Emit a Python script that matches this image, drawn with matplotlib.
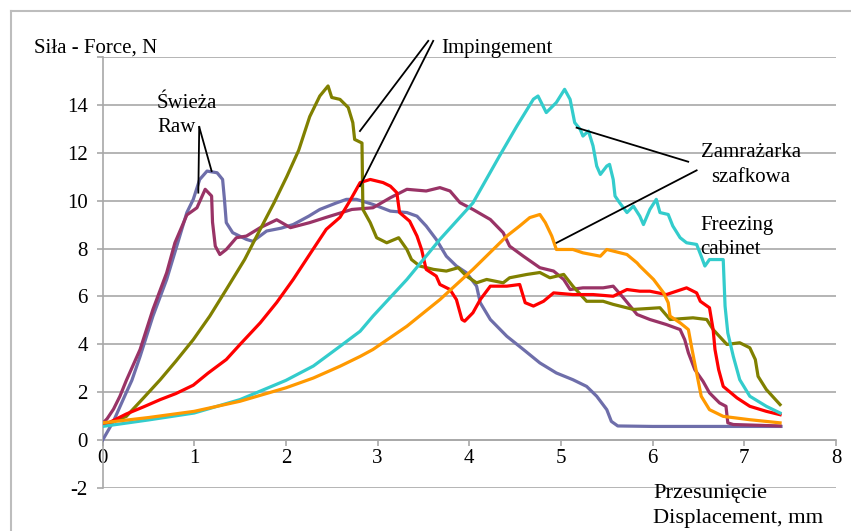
import matplotlib
matplotlib.use("Agg")
import matplotlib.pyplot as plt
from matplotlib.lines import Line2D

# ------------------------------------
# Data: displacement (mm) vs force (N)
# ------------------------------------
raw1_x = [0, 0.12, 0.26, 0.32, 0.41, 0.55, 0.70, 0.81, 0.92, 0.99, 1.06, 1.14, 1.25, 1.31, 1.33,
          1.35, 1.42, 1.57, 1.64, 1.79, 1.95, 2.08, 2.25, 2.37, 2.55, 2.66, 2.77, 2.95, 3.14,
          3.32, 3.43, 3.53, 3.64, 3.75, 3.86, 3.97, 4.08, 4.12, 4.23, 4.41, 4.59, 4.77, 4.95,
          5.13, 5.28, 5.39, 5.50, 5.55, 5.62, 6.0, 7.0, 7.4]
raw1_y = [0.0, 0.8, 2.0, 2.5, 3.5, 5.18, 6.71, 8.1, 9.5, 10.05, 10.88, 11.23, 11.16, 10.88, 10.05,
          9.08, 8.66, 8.38, 8.3, 8.73, 8.85, 9.0, 9.35, 9.63, 9.9, 10.05, 10.05, 9.84, 9.56,
          9.5, 9.35, 8.94, 8.38, 7.68, 7.27, 6.99, 6.43, 5.74, 5.04, 4.34, 3.79, 3.23, 2.81,
          2.53, 2.25, 1.84, 1.28, 0.79, 0.6, 0.58, 0.58, 0.58]

raw2_x = [0, 0.05, 0.12, 0.19, 0.26, 0.41, 0.55, 0.70, 0.79, 0.92, 1.03, 1.12, 1.19, 1.20, 1.23,
          1.28, 1.35, 1.46, 1.57, 1.72, 1.90, 2.05, 2.26, 2.44, 2.66, 2.72, 2.95, 3.14, 3.32,
          3.53, 3.68, 3.79, 3.90, 4.04, 4.23, 4.37, 4.44, 4.59, 4.77, 4.92, 5.03, 5.10, 5.24,
          5.46, 5.57, 5.68, 5.83, 5.97, 6.15, 6.30, 6.35, 6.39, 6.46, 6.55, 6.62, 6.73, 6.80,
          6.82, 6.88, 7.39]
raw2_y = [0.7, 0.9, 1.3, 1.84, 2.5, 3.79, 5.46, 6.99, 8.24, 9.4, 9.7, 10.47, 10.19, 9.1, 8.1,
          7.75, 7.96, 8.45, 8.52, 8.87, 9.2, 8.87, 9.08, 9.3, 9.56, 9.63, 9.7, 10.12, 10.47,
          10.4, 10.54, 10.4, 9.91, 9.63, 9.21, 8.66, 8.1, 7.68, 7.2, 7.06, 6.71, 6.29, 6.36,
          6.36, 6.43, 5.95, 5.25, 5.04, 4.83, 4.62, 4.2, 3.65, 2.95, 2.46, 1.98, 1.56, 1.42,
          0.73, 0.66, 0.6]

imp1_x = [0, 0.1, 0.26, 0.45, 0.63, 0.80, 0.99, 1.17, 1.35, 1.55, 1.72, 1.87, 2.01, 2.14, 2.26,
          2.37, 2.46, 2.50, 2.59, 2.68, 2.73, 2.75, 2.83, 2.84, 2.92, 2.99, 3.10, 3.23, 3.32,
          3.37, 3.46, 3.61, 3.75, 3.88, 3.97, 4.08, 4.19, 4.37, 4.44, 4.63, 4.77, 4.88, 5.03,
          5.13, 5.28, 5.46, 5.57, 5.79, 6.08, 6.19, 6.44, 6.59, 6.66, 6.81, 6.95, 7.06, 7.12,
          7.15, 7.24, 7.39]
imp1_y = [0.6, 0.75, 1.0, 1.78, 2.53, 3.3, 4.2, 5.18, 6.29, 7.54, 8.8, 9.9, 11.0, 12.1, 13.5,
          14.36, 14.78, 14.3, 14.22, 13.88, 13.25, 12.55, 12.4, 9.63, 9.08, 8.45, 8.24, 8.45, 7.96,
          7.54, 7.27, 7.13, 7.06, 7.2, 6.85, 6.57, 6.71, 6.57, 6.78, 6.92, 7.0, 6.78, 6.92,
          6.43, 5.8, 5.8, 5.67, 5.46, 5.53, 5.04, 5.11, 5.04, 4.62, 4.0, 4.07, 3.86, 3.37,
          2.67, 2.12, 1.49]

imp2_x = [0, 0.26, 0.45, 0.63, 0.80, 0.99, 1.15, 1.35, 1.50, 1.72, 1.90, 2.08, 2.25, 2.44, 2.59,
          2.70, 2.81, 2.92, 3.06, 3.14, 3.21, 3.24, 3.35, 3.43, 3.48, 3.53, 3.64, 3.68, 3.79,
          3.86, 3.92, 3.95, 4.04, 4.12, 4.23, 4.41, 4.55, 4.61, 4.70, 4.81, 4.92, 5.13, 5.35,
          5.57, 5.72, 5.86, 5.97, 6.15, 6.37, 6.48, 6.52, 6.62, 6.66, 6.68, 6.72, 6.77, 6.92,
          7.06, 7.24, 7.39]
imp2_y = [0.6, 1.1, 1.4, 1.7, 1.95, 2.3, 2.8, 3.37, 4.0, 4.9, 5.75, 6.71, 7.7, 8.8, 9.3,
          10.0, 10.75, 10.88, 10.75, 10.6, 10.33, 9.5, 9.14, 8.52, 7.96, 7.13, 6.85, 6.5, 6.29,
          5.87, 5.04, 4.97, 5.32, 5.87, 6.43, 6.43, 6.5, 5.74, 5.6, 5.8, 6.15, 6.08, 6.08,
          6.01, 6.29, 6.22, 6.22, 6.08, 6.36, 6.15, 5.8, 5.53, 4.62, 3.79, 2.95, 2.25, 1.77,
          1.42, 1.21, 1.07]

frz1_x = [0, 0.5, 1.0, 1.5, 2.0, 2.3, 2.59, 2.81, 2.95, 3.32, 3.68, 4.04, 4.33, 4.52, 4.70,
          4.75, 4.84, 4.95, 5.04, 5.10, 5.15, 5.21, 5.24, 5.30, 5.35, 5.39, 5.43, 5.50, 5.53,
          5.57, 5.59, 5.64, 5.72, 5.79, 5.86, 5.90, 5.97, 6.04, 6.08, 6.17, 6.22, 6.30, 6.37,
          6.48, 6.53, 6.57, 6.62, 6.77, 6.79, 6.82, 6.88, 6.95, 7.06, 7.24, 7.39]
frz1_y = [0.58, 0.85, 1.14, 1.7, 2.5, 3.1, 3.92, 4.55, 5.18, 6.71, 8.38, 9.9, 11.86, 13.11, 14.23,
          14.36, 13.67, 14.09, 14.64, 14.22, 13.25, 12.97, 12.69, 12.9, 12.28, 11.44, 11.09, 11.44, 11.51,
          10.88, 10.19, 9.91, 9.5, 9.77, 9.35, 9.0, 9.63, 10.05, 9.5, 9.42, 8.94, 8.45, 8.24,
          8.17, 7.68, 7.27, 7.54, 7.54, 5.6, 4.48, 3.5, 2.53, 1.84, 1.42, 1.14]

frz2_x = [0, 0.5, 1.0, 1.5, 2.0, 2.3, 2.59, 2.81, 2.95, 3.32, 3.68, 4.04, 4.41, 4.55, 4.66,
          4.77, 4.83, 4.90, 4.95, 5.13, 5.24, 5.43, 5.50, 5.72, 5.83, 5.86, 6.01, 6.12, 6.17,
          6.19, 6.30, 6.39, 6.43, 6.48, 6.53, 6.62, 6.77, 7.06, 7.39]
frz2_y = [0.73, 0.95, 1.21, 1.63, 2.19, 2.6, 3.09, 3.5, 3.79, 4.76, 5.87, 7.13, 8.52, 8.94, 9.29,
          9.42, 9.08, 8.52, 7.96, 7.96, 7.82, 7.68, 7.96, 7.75, 7.4, 7.27, 6.71, 6.15, 5.74,
          5.18, 4.9, 4.62, 3.79, 2.81, 1.84, 1.28, 1.0, 0.86, 0.73]

series = [
    (raw1_x, raw1_y, "#6E6EAA"),
    (raw2_x, raw2_y, "#993366"),
    (imp1_x, imp1_y, "#808000"),
    (imp2_x, imp2_y, "#FF0000"),
    (frz1_x, frz1_y, "#33CCCC"),
    (frz2_x, frz2_y, "#FF9900"),
]

x_ticks = list(range(0, 9))
y_ticks = list(range(-2, 17, 2))

# ------------------------------------
# Figure setup
# ------------------------------------
W, H = 851, 531
plt.rcParams["font.family"] = ["Liberation Serif", "DejaVu Serif"]
fig = plt.figure(figsize=(W / 100, H / 100), dpi=100)


def fx(px):
    return px / W


def fy(py):
    return 1 - py / H


ax = fig.add_axes([fx(102.5), fy(488.3), fx(836) - fx(102.5), fy(56.7) - fy(488.3)])

grid_col = "#A8A8A8"
for xs, ys, col in series:
    ax.plot(xs, ys, color=col, lw=2.3, solid_joinstyle="round", zorder=3)

ax.set_xlim(0, 8)
ax.set_ylim(-2, 16)
ax.set_xticks(x_ticks)
ax.set_yticks(y_ticks)
ax.set_yticklabels([str(v) if v < 16 else "" for v in y_ticks])
ax.yaxis.grid(True, color=grid_col, lw=1.2)
ax.set_axisbelow(True)

for side in ("top", "right"):
    ax.spines[side].set_visible(False)
ax.spines["bottom"].set_position(("data", 0))
for side in ("left", "bottom"):
    ax.spines[side].set_color(grid_col)
    ax.spines[side].set_linewidth(1.2)

ax.tick_params(axis="y", direction="out", length=4.5, width=1.2, color=grid_col,
               pad=6, labelsize=15)
ax.tick_params(axis="x", direction="out", length=4, width=1.2, color=grid_col,
               pad=2, labelsize=15)

# ------------------------------------
# Callout lines and labels
# ------------------------------------
callouts = [
    ((1.055, 13.07), (1.045, 10.33)),
    ((1.055, 13.07), (1.19, 11.23)),
    ((3.553, 16.66), (2.808, 12.9)),
    ((3.607, 16.66), (2.808, 10.6)),
    ((5.171, 13.04), (6.388, 11.62)),
    ((6.48, 11.26), (4.953, 8.24)),
]
for (x0, y0), (x1, y1) in callouts:
    ax.plot([x0, x1], [y0, y1], color="black", lw=1.3, clip_on=False, zorder=4)

txt = dict(fontsize=15, color="black", va="baseline")
fig.text(fx(34), fy(52.7), "Siła - Force, N", ha="left", **txt)
fig.text(fx(157), fy(108), "Świeża", ha="left", **txt)
fig.text(fx(157), fy(132), "Raw", ha="left", **txt)
fig.text(fx(441.7), fy(53), "Impingement", ha="left", **txt)
fig.text(fx(751), fy(156.7), "Zamrażarka", ha="center", **txt)
fig.text(fx(751), fy(181.7), "szafkowa", ha="center", **txt)
fig.text(fx(700), fy(230), "Freezing", ha="left", **txt)
fig.text(fx(700), fy(254), "cabinet", ha="left", **txt)

xlab = dict(txt, fontsize=16.2)
fig.text(fx(653.3), fy(498), "Przesunięcie", ha="left", **xlab)
fig.text(fx(653.3), fy(523.3), "Displacement, mm", ha="left", **xlab)

# Outer chart frame
frame_col = "#BDBDBD"
fig.add_artist(Line2D([fx(11), fx(11)], [0, fy(11)], color=frame_col, lw=1.5))
fig.add_artist(Line2D([fx(11), 1], [fy(11), fy(11)], color=frame_col, lw=1.5))

fig.savefig("out.png", dpi=100)
